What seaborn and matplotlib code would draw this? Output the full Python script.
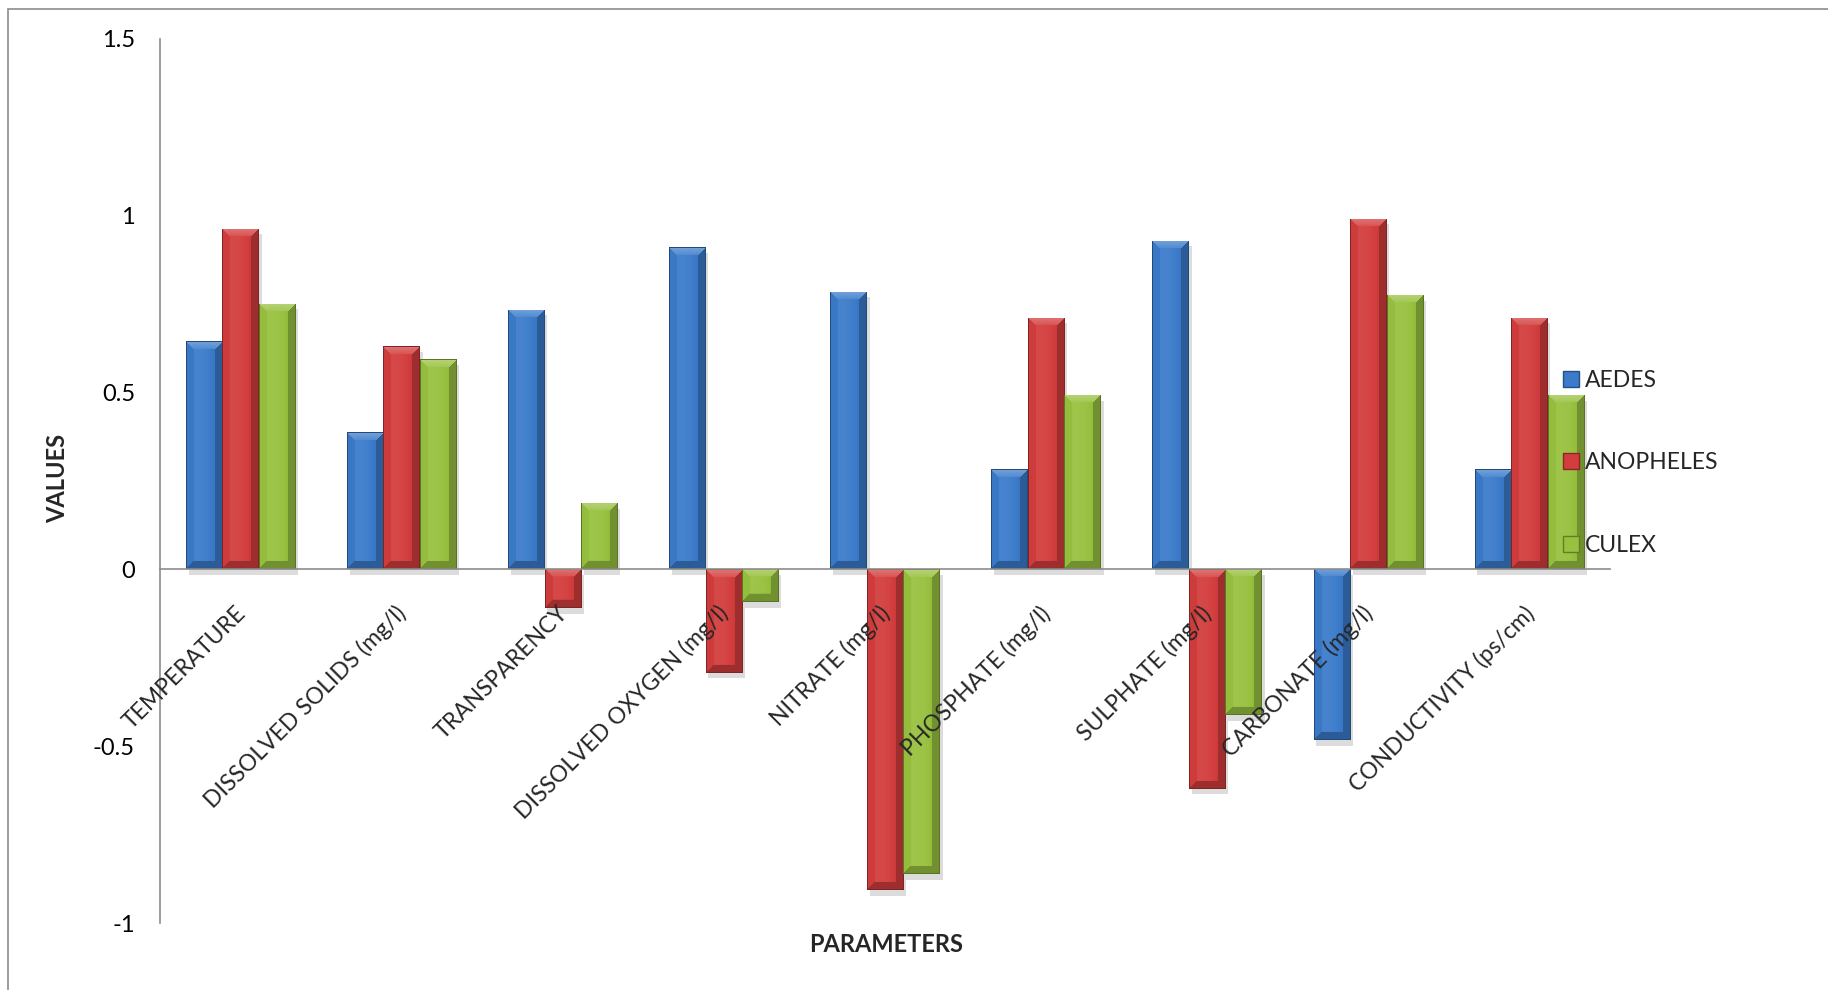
import numpy as np
import pandas as pd
import seaborn as sns
import matplotlib
matplotlib.use("Agg")
import matplotlib.pyplot as plt
from matplotlib.colors import to_rgb
from matplotlib.transforms import ScaledTranslation
from matplotlib.patches import Rectangle, Patch
from matplotlib import patheffects

# ---- data ----
parameters = [
    "TEMPERATURE",
    "DISSOLVED SOLIDS (mg/l)",
    "TRANSPARENCY",
    "DISSOLVED OXYGEN (mg/l)",
    "NITRATE (mg/l)",
    "PHOSPHATE (mg/l)",
    "SULPHATE (mg/l)",
    "CARBONATE (mg/l)",
    "CONDUCTIVITY (ps/cm)",
]
species = ["AEDES", "ANOPHELES", "CULEX"]
aedes = [0.644, 0.387, 0.734, 0.910, 0.784, 0.282, 0.928, -0.484, 0.282]
anopheles = [0.962, 0.630, -0.111, -0.292, -0.907, 0.711, -0.620, 0.991, 0.711]
culex = [0.750, 0.593, 0.187, -0.094, -0.862, 0.492, -0.413, 0.775, 0.492]
y_ticks = [-1, -0.5, 0, 0.5, 1, 1.5]
y_tick_labels = ["-1", "-0.5", "0", "0.5", "1", "1.5"]

colors = {"AEDES": "#3B7BCA", "ANOPHELES": "#D33D3D", "CULEX": "#98C13F"}

df = pd.DataFrame({
    "parameter": parameters * 3,
    "species": np.repeat(species, len(parameters)),
    "value": aedes + anopheles + culex,
})

sns.set_style("white")
plt.rcParams["font.family"] = ["Lato", "DejaVu Sans"]

W_PX, H_PX, DPI = 1828, 990, 100
fig = plt.figure(figsize=(W_PX / DPI, H_PX / DPI), dpi=DPI)
ax = fig.add_axes([160 / W_PX, 1 - 923 / H_PX, 1450 / W_PX, (923 - 38.5) / H_PX])

sns.barplot(data=df, x="parameter", y="value", hue="species", palette=colors,
            width=0.68, saturation=1, legend=False, ax=ax, errorbar=None)

ax.set_xlim(-0.5, len(parameters) - 0.5)
ax.set_ylim(-1, 1.5)

gray = "#8C8C8C"


def shade(rgb, f):
    rgb = np.asarray(rgb)
    if f >= 0:
        return rgb + (1 - rgb) * f
    return rgb * (1 + f)


# bevelled, gradient-filled bars
bars = [p for p in ax.patches if isinstance(p, Rectangle)]
for bar in bars:
    base = np.array(bar.get_facecolor()[:3])
    x0, y0 = bar.get_x(), bar.get_y()
    x1, y1 = x0 + bar.get_width(), y0 + bar.get_height()
    ylo, yhi = min(y0, y1), max(y0, y1)
    (px0, py0), (px1, py1) = ax.transData.transform([(x0, ylo), (x1, yhi)])
    w = max(int(round(px1 - px0)), 2)
    h = max(int(round(py1 - py0)), 2)
    xx, yy = np.meshgrid(np.arange(w) + 0.5, np.arange(h) + 0.5)
    dl, dr, dt, db = xx, w - xx, yy, h - yy
    xn = xx / w
    f = 0.06 - 0.4 * (xn - 0.3) ** 2
    d = 8.0
    top = (dt < d) & (dt <= dl) & (dt <= dr)
    bot = (db < d) & (db <= dl) & (db <= dr) & ~top
    left = (dl < d) & ~top & ~bot & (dl <= dr)
    right = (dr < d) & ~top & ~bot & ~left
    f = np.where(top, 0.12 + 0.18 * (1 - dt / d), f)
    f = np.where(bot, -0.25, f)
    f = np.where(left, -0.02, f)
    f = np.where(right, -0.25, f)
    edge = (dl < 1.2) | (dr < 1.2) | (dt < 1.2) | (db < 1.2)
    f = np.where(edge, -0.4, f)
    img = np.empty((h, w, 3))
    pos = f >= 0
    for c in range(3):
        img[..., c] = np.where(pos, base[c] + (1 - base[c]) * f, base[c] * (1 + f))
    bar.set_edgecolor("none")
    bar.set_path_effects([
        patheffects.SimplePatchShadow(offset=(2, -4), shadow_rgbFace="#777777", alpha=0.25),
        patheffects.Normal(),
    ])
    im = ax.imshow(np.clip(img, 0, 1), extent=(x0, x1, ylo, yhi), origin="upper",
                   aspect="auto", interpolation="bilinear", zorder=bar.get_zorder() + 0.1)
    im.set_clip_path(bar)

ax.set_xlim(-0.5, len(parameters) - 0.5)
ax.set_ylim(-1, 1.5)

# axes styling
for s in ("top", "right"):
    ax.spines[s].set_visible(False)
ax.spines["left"].set_color(gray)
ax.spines["bottom"].set_color(gray)
ax.spines["left"].set_linewidth(1.2)
ax.spines["bottom"].set_linewidth(1.2)
ax.spines["bottom"].set_position(("data", 0))

ax.set_xticks(np.arange(-0.5, len(parameters), 1.0))
ax.set_xticklabels([])
ax.tick_params(axis="x", length=7, width=1.2, color=gray, direction="out")
ax.set_yticks(y_ticks, labels=y_tick_labels)
ax.tick_params(axis="y", length=6, width=1.2, color=gray, direction="out",
               labelsize=17, pad=12, labelcolor="black")
ax.set_xlabel("")
ax.set_ylabel("")
ax.grid(False)

# rotated category labels hanging below the zero line
offset = ScaledTranslation(9 / DPI, -33 / DPI, fig.dpi_scale_trans)
for i, name in enumerate(parameters):
    ax.text(i, 0, name, rotation=45, ha="right", va="top", fontsize=16.5,
            transform=ax.transData + offset, zorder=5)

fig.text(58 / W_PX, 1 - 478 / H_PX, "VALUES", rotation=90, ha="center", va="center",
         fontsize=17, fontweight="bold")
fig.text(886 / W_PX, 1 - 944 / H_PX, "PARAMETERS", ha="center", va="center",
         fontsize=17, fontweight="bold")

handles = [Patch(facecolor=colors[s], edgecolor=shade(to_rgb(colors[s]), -0.35)) for s in species]
ax.legend(handles, species, loc="center left", bbox_to_anchor=(1563 / W_PX, 1 - 463 / H_PX),
          bbox_transform=fig.transFigure, frameon=False, fontsize=16.5, handlelength=0.7,
          handleheight=0.7, handletextpad=0.25, labelspacing=2.68, borderpad=0,
          borderaxespad=0)

# outer chart frame (left and top edges visible)
fig.add_artist(Rectangle((8 / W_PX, -0.5), 2, 0.5 + 1 - 9 / H_PX, transform=fig.transFigure,
                         fill=False, edgecolor=gray, linewidth=1.2))

fig.savefig("out.png", dpi=DPI)
